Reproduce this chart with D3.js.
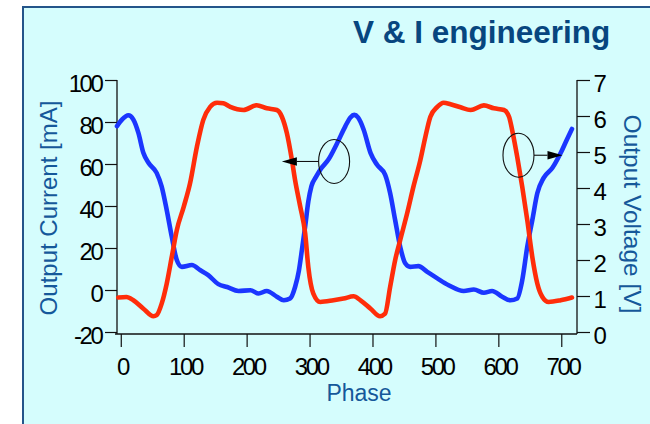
<!DOCTYPE html>
<html>
<head>
<meta charset="utf-8">
<script src="https://cdn.jsdelivr.net/npm/d3@7"></script>
<style>
  html, body { margin: 0; padding: 0; background: #ffffff; }
  svg { display: block; }
</style>
</head>
<body>
<svg id="chart" width="650" height="424"></svg>
<script>
// Output current (mA) against phase (degrees)
const currentSeries = [
  [-4, -3.6], [9, -3.3], [20, -4.9], [36, -8.9], [52, -12.5], [57, -12], [65, -6.5],
  [73, 3], [81, 15.7], [89, 28.5], [100, 39.6], [110, 50.7], [121, 68.2], [131, 80.9],
  [142, 87.2], [153, 89.2], [163, 88.9], [174, 87.2], [195, 85.7], [216, 88], [232, 86.5],
  [248, 85.7], [256, 82.5], [264, 74.6], [272, 61.8], [277, 52.3], [285, 40], [293, 27],
  [298, 11], [306, -1.7], [317, -5.7], [338, -4.9], [354, -4.1], [370, -3], [381, -4.9],
  [397, -8.9], [412, -12.5], [420, -11.3], [428, 1.4], [436, 14.2], [444, 23.7],
  [455, 36.4], [465, 49.1], [476, 61.8], [484, 72.9], [492, 82.5], [503, 87.2],
  [513, 89.2], [524, 88.5], [540, 87], [556, 85.7], [577, 87.9], [593, 86.5], [609, 85.7],
  [617, 82.5], [622, 76.1], [630, 63.4], [638, 49.1], [646, 33.2], [654, 15.7], [662, 3],
  [670, -3.3], [680, -5.7], [699, -4.9], [717, -3.6]
];

// Output voltage (V) against phase (degrees)
const voltageSeries = [
  [-6, 5.72], [2, 5.9], [12, 6.02], [20, 5.9], [28, 5.53], [36, 4.97], [44, 4.7],
  [57, 4.42], [65, 4.04], [73, 3.39], [81, 2.65], [89, 2.0], [97, 1.81], [113, 1.86],
  [126, 1.72], [139, 1.58], [155, 1.33], [169, 1.25], [187, 1.14], [206, 1.16],
  [219, 1.07], [232, 1.14], [248, 0.98], [259, 0.88], [269, 0.93], [277, 1.25],
  [283, 1.7], [288, 2.3], [293, 2.93], [298, 3.62], [303, 4.05], [310, 4.3], [317, 4.51],
  [330, 4.79], [344, 5.25], [357, 5.72], [365, 5.96], [371, 6.03], [377, 5.96], [386, 5.62],
  [397, 4.97], [407, 4.65], [420, 4.37], [428, 3.86], [436, 3.11], [444, 2.37],
  [452, 1.91], [460, 1.81], [473, 1.83], [487, 1.67], [503, 1.49], [521, 1.3],
  [545, 1.14], [561, 1.18], [577, 1.09], [590, 1.14], [606, 0.98], [619, 0.88],
  [630, 0.93], [638, 1.44], [646, 2.37], [654, 3.11], [662, 3.86], [672, 4.28],
  [686, 4.56], [699, 4.97], [709, 5.35], [717, 5.64]
];

// Tick values
const phaseTicks = [0, 100, 200, 300, 400, 500, 600, 700];
const currentTicks = [-20, 0, 20, 40, 60, 80, 100];
const voltageTicks = [0, 1, 2, 3, 4, 5, 6, 7];

// Callouts: circled crossing with an arrow pointing to the axis it belongs to
// [phase, value at centre, phase of arrow tip]
const currentCallout = [339, 61.2, 256];   // value in mA
const voltageCallout = [632, 4.91, 702];   // value in V

const svg = d3.select("#chart");
const W = 650, H = 424;

const plot = { left: 117, right: 577, top: 80, bottom: 332, axisY: 334 };

const x = d3.scaleLinear().domain([-6, 725]).range([plot.left, plot.right]);
const yI = d3.scaleLinear().domain([-20, 100]).range([plot.bottom, plot.top]);
const yV = d3.scaleLinear().domain([0, 7]).range([plot.bottom, plot.top]);

const FONT = "'Liberation Sans', Arial, Helvetica, sans-serif";
const RED = "#ff2d0a";
const BLUE = "#1b36ff";
const plain = d => String(d);   // hyphen-minus, as on the instrument plots

// Panel background
svg.append("rect").attr("width", W).attr("height", H).attr("fill", "#ffffff");
svg.append("rect")
  .attr("x", 23).attr("y", 7).attr("width", W + 10).attr("height", H + 10)
  .attr("fill", "#d5fdfd").attr("stroke", "#24558a").attr("stroke-width", 2);

// Title
svg.append("text")
  .attr("x", 353).attr("y", 42.5)
  .attr("font-family", FONT).attr("font-weight", "bold").attr("font-size", 31.5)
  .attr("fill", "#07467f")
  .text("V & I engineering");

// Axes
const tickStyle = g => {
  g.select(".domain").remove();
  g.selectAll(".tick line").attr("stroke", "#111").attr("stroke-width", 1.2);
  g.selectAll(".tick text")
    .attr("font-family", FONT).attr("font-size", 24).attr("fill", "#000")
    .style("letter-spacing", "-2.4px");
};

const leftAxis = svg.append("g")
  .attr("transform", `translate(${plot.left},0)`)
  .call(d3.axisLeft(yI).tickValues(currentTicks).tickFormat(plain).tickSize(12).tickPadding(0))
  .call(tickStyle);
leftAxis.selectAll(".tick text").attr("x", -15.5).attr("dy", 11);

const rightAxis = svg.append("g")
  .attr("transform", `translate(${plot.right},0)`)
  .call(d3.axisRight(yV).tickValues(voltageTicks).tickFormat(plain).tickSize(13).tickPadding(0))
  .call(tickStyle);
rightAxis.selectAll(".tick text").attr("x", 16.5).attr("dy", 11);

const bottomAxis = svg.append("g")
  .attr("transform", `translate(0,${plot.axisY})`)
  .call(d3.axisBottom(x).tickValues(phaseTicks).tickFormat(plain).tickSize(13).tickPadding(0))
  .call(tickStyle);
bottomAxis.selectAll(".tick text").attr("y", 41).attr("dy", 0).attr("dx", 1.2);

// Frame lines (left, bottom, right)
const frame = svg.append("g").attr("stroke", "#111").attr("stroke-width", 1.3).attr("fill", "none");
frame.append("line").attr("x1", plot.left).attr("x2", plot.left).attr("y1", plot.top).attr("y2", plot.axisY);
frame.append("line").attr("x1", plot.right).attr("x2", plot.right).attr("y1", yV(7)).attr("y2", plot.axisY);
frame.append("line").attr("x1", plot.left - 2).attr("x2", plot.right).attr("y1", plot.axisY).attr("y2", plot.axisY);

// Axis titles
svg.append("text")
  .attr("transform", `translate(57,208) rotate(-90)`)
  .attr("text-anchor", "middle")
  .attr("font-family", FONT).attr("font-size", 24).attr("fill", "#15589a")
  .text("Output Current [mA]");

svg.append("text")
  .attr("transform", `translate(623.5,214) rotate(90)`)
  .attr("text-anchor", "middle")
  .attr("font-family", FONT).attr("font-size", 24.5).attr("fill", "#15589a")
  .text("Output Voltage [V]");

svg.append("text")
  .attr("x", 359).attr("y", 400.5)
  .attr("text-anchor", "middle")
  .attr("font-family", FONT).attr("font-size", 23).attr("fill", "#15589a")
  .text("Phase");

// Curves
const voltageLine = d3.line().x(d => x(d[0])).y(d => yV(d[1])).curve(d3.curveMonotoneX);
const currentLine = d3.line().x(d => x(d[0])).y(d => yI(d[1])).curve(d3.curveMonotoneX);

svg.append("path").datum(voltageSeries)
  .attr("d", voltageLine).attr("fill", "none").attr("stroke", BLUE)
  .attr("stroke-width", 4.6).attr("stroke-linejoin", "round").attr("stroke-linecap", "round");

svg.append("path").datum(currentSeries)
  .attr("d", currentLine).attr("fill", "none").attr("stroke", RED)
  .attr("stroke-width", 4.6).attr("stroke-linejoin", "round").attr("stroke-linecap", "round");

// Callouts
const RX = 15.5, RY = 22, HEAD = 15, HALF = 4.2;
function callout(cx, cy, tipX) {
  const g = svg.append("g");
  g.append("ellipse")
    .attr("cx", cx).attr("cy", cy).attr("rx", RX).attr("ry", RY)
    .attr("fill", "none").attr("stroke", "#111").attr("stroke-width", 1.1);
  const dir = tipX < cx ? -1 : 1;
  const startX = cx + dir * RX;
  g.append("line")
    .attr("x1", startX).attr("y1", cy).attr("x2", tipX - dir * HEAD).attr("y2", cy)
    .attr("stroke", "#111").attr("stroke-width", 1.1);
  g.append("path")
    .attr("d", d3.line()([[tipX, cy], [tipX - dir * HEAD, cy - HALF], [tipX - dir * HEAD, cy + HALF]]) + "Z")
    .attr("fill", "#000");
}
callout(x(currentCallout[0]), yI(currentCallout[1]), x(currentCallout[2]));
callout(x(voltageCallout[0]), yV(voltageCallout[1]), x(voltageCallout[2]));
</script>
</body>
</html>
